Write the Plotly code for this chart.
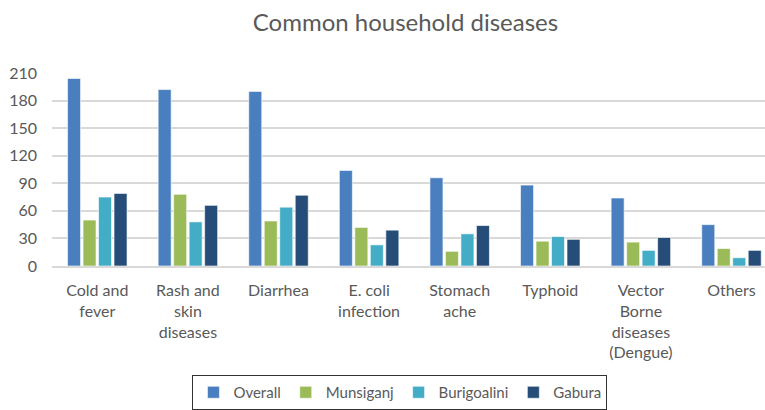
import plotly.graph_objects as go

categories = ["Cold and<br>fever", "Rash and<br>skin<br>diseases", "Diarrhea",
              "E. coli<br>infection", "Stomach<br>ache", "Typhoid",
              "Vector<br>Borne<br>diseases<br>(Dengue)", "Others"]
overall = [204, 192, 190, 104, 96, 88, 74, 45]
munsiganj = [50, 78, 49, 42, 16, 27, 26, 19]
burigoalini = [75, 48, 64, 23, 35, 32, 17, 9]
gabura = [79, 66, 77, 39, 44, 29, 31, 17]
y_ticks = [0, 30, 60, 90, 120, 150, 180, 210]

series = [("Overall", overall, "#4A7FBF"),
          ("Munsiganj", munsiganj, "#9BBB59"),
          ("Burigoalini", burigoalini, "#43ACC6"),
          ("Gabura", gabura, "#264D78")]

fig = go.Figure()
for name, vals, col in series:
    fig.add_trace(go.Bar(x=list(range(len(categories))), y=vals, name=name,
                         marker=dict(color=col, line=dict(color="rgba(255,255,255,0.6)", width=1))))

FONT = "Lato, 'Open Sans', sans-serif"
fig.update_layout(
    width=765, height=410,
    margin=dict(l=52, r=0, t=73, b=143),
    paper_bgcolor="white", plot_bgcolor="white",
    barmode="group", bargap=0.316, bargroupgap=0.16,
    title=dict(text="Common household diseases", x=0.53, xanchor="center",
               y=0.945, yanchor="middle",
               font=dict(family=FONT, size=24, color="#595959")),
    font=dict(family=FONT, size=16, color="#595959"),
    xaxis=dict(range=[-0.5, 7.37], tickmode="array",
               tickvals=list(range(len(categories))), ticktext=categories,
               showgrid=False, showline=True, linecolor="#D9D9D9", linewidth=1.5,
               ticks="", ticklabelstandoff=9,
               tickfont=dict(size=16, color="#595959"), fixedrange=True),
    yaxis=dict(range=[0, 210], tickmode="array", tickvals=y_ticks,
               showgrid=True, gridcolor="#D9D9D9", gridwidth=1.5,
               zeroline=False, ticks="", ticklen=0, ticklabelstandoff=14,
               tickfont=dict(size=16, color="#595959")),
    legend=dict(orientation="h", x=0.488, xanchor="center", y=-0.565, yanchor="top",
                bordercolor="#333333", borderwidth=1, itemwidth=30,
                font=dict(size=15, color="#595959"), traceorder="normal"),
)

fig.write_html("out.html")
